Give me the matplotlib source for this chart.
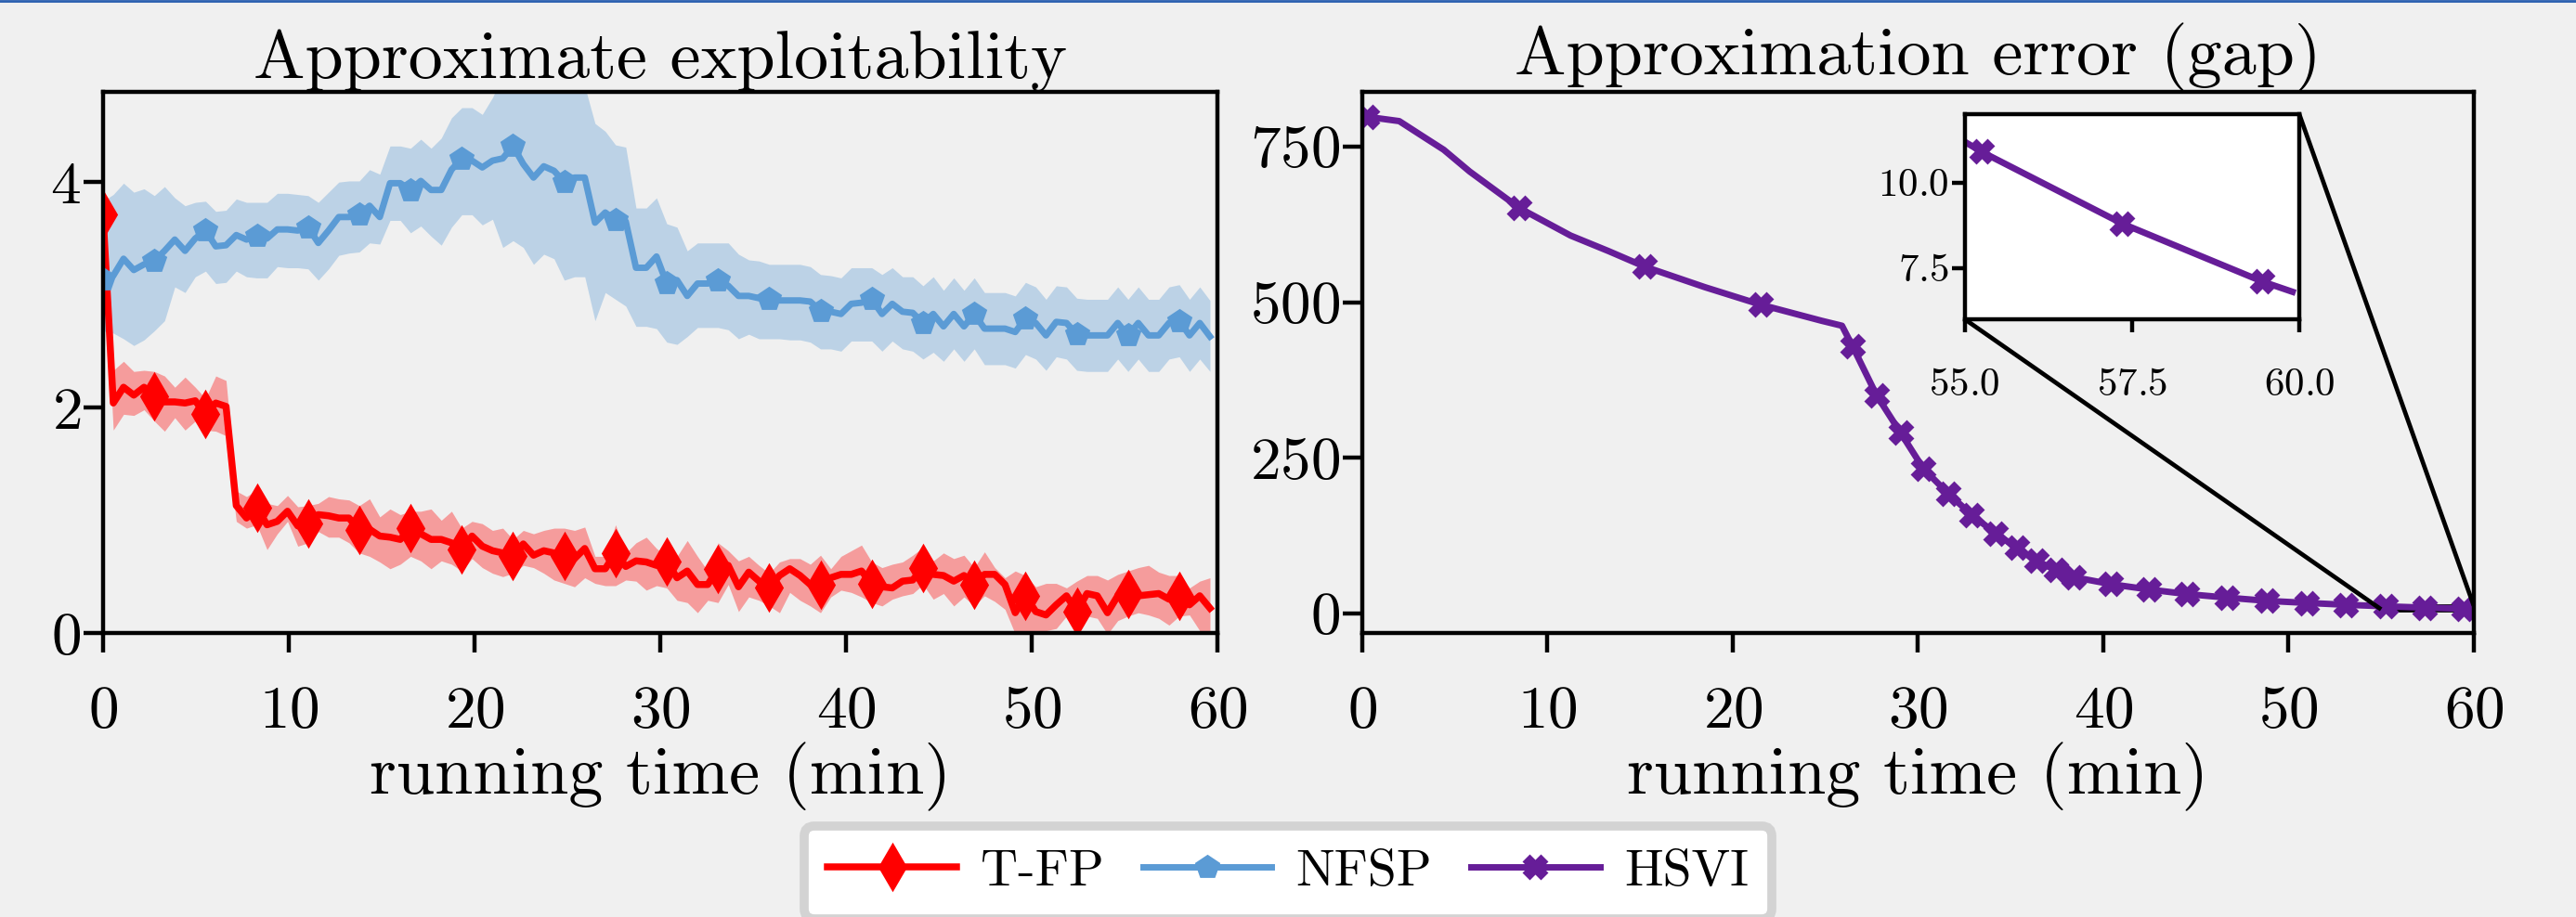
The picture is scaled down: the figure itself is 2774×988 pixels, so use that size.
#!/usr/bin/env python3
"""Exploitability / gap curves: T-FP and NFSP vs HSVI."""

import matplotlib

matplotlib.use("Agg")
import matplotlib.pyplot as plt
import numpy as np
from matplotlib.lines import Line2D
from mpl_toolkits.axes_grid1.inset_locator import mark_inset

plt.rcParams.update({
    "font.family": "cmr10",
    "mathtext.fontset": "cm",
    "axes.formatter.use_mathtext": True,
    "font.size": 23.5,
})

BG = "#f0f0f0"

# running time grid of the sampled runs (min)
TIME = np.linspace(0.0, 59.6, 109)

TFP_MEAN = [
    3.71, 2.04, 2.18, 2.11, 2.18, 2.10, 2.05, 2.05, 2.04, 2.06, 1.94, 2.04, 2.01,
    1.13, 1.02, 1.11, 0.96, 0.99, 1.08, 0.95, 0.97, 1.05, 1.04, 1.02, 1.02, 0.91, 0.92,
    0.86, 0.85, 0.83, 0.93, 0.88, 0.83, 0.83, 0.80, 0.74, 0.86, 0.77, 0.73, 0.71, 0.68,
    0.79, 0.69, 0.73, 0.71, 0.68, 0.66, 0.75, 0.57, 0.57, 0.71, 0.59, 0.64, 0.63, 0.60,
    0.63, 0.49, 0.55, 0.43, 0.43, 0.57, 0.60, 0.41, 0.54, 0.46, 0.40, 0.51, 0.57, 0.51,
    0.43, 0.43, 0.49, 0.52, 0.52, 0.55, 0.44, 0.41, 0.40, 0.46, 0.47, 0.58, 0.52, 0.51,
    0.46, 0.51, 0.43, 0.52, 0.52, 0.43, 0.18, 0.33, 0.19, 0.16, 0.25, 0.33, 0.19, 0.35,
    0.33, 0.18, 0.33, 0.35, 0.33, 0.34, 0.35, 0.30, 0.33, 0.25, 0.33, 0.22,
]
TFP_LO = [
    3.50, 1.80, 1.94, 1.93, 1.98, 1.88, 1.79, 1.91, 1.80, 1.88, 1.80, 1.79, 1.75,
    0.99, 0.93, 0.96, 0.74, 0.88, 0.99, 0.77, 0.80, 0.90, 0.85, 0.85, 0.80, 0.71, 0.68,
    0.63, 0.57, 0.61, 0.68, 0.64, 0.57, 0.64, 0.61, 0.55, 0.66, 0.58, 0.53, 0.50, 0.53,
    0.60, 0.58, 0.53, 0.47, 0.44, 0.41, 0.49, 0.44, 0.42, 0.42, 0.47, 0.46, 0.38, 0.42,
    0.40, 0.29, 0.27, 0.18, 0.29, 0.27, 0.43, 0.19, 0.32, 0.29, 0.24, 0.18, 0.36, 0.29,
    0.24, 0.18, 0.32, 0.38, 0.36, 0.32, 0.27, 0.24, 0.30, 0.33, 0.35, 0.43, 0.30, 0.35,
    0.24, 0.32, 0.24, 0.33, 0.28, 0.21, -0.01, 0.02, 0.02, 0.02, 0.04, 0.15, 0.01, 0.15,
    0.13, -0.01, 0.11, 0.15, 0.18, 0.16, 0.13, 0.07, 0.15, 0.16, 0.02, -0.07,
]
TFP_HI = [
    3.89, 2.33, 2.41, 2.32, 2.33, 2.32, 2.28, 2.18, 2.27, 2.18, 2.08, 2.28, 2.24,
    1.26, 1.21, 1.27, 1.15, 1.13, 1.22, 1.12, 1.13, 1.15, 1.21, 1.19, 1.18, 1.13, 1.19,
    1.03, 1.10, 1.05, 1.08, 1.08, 1.10, 1.00, 1.08, 0.93, 0.99, 0.97, 0.91, 0.93, 0.83,
    0.91, 0.88, 0.91, 0.93, 0.93, 0.91, 0.94, 0.68, 0.68, 0.96, 0.71, 0.80, 0.85, 0.75,
    0.68, 0.68, 0.82, 0.68, 0.55, 0.80, 0.73, 0.64, 0.68, 0.60, 0.53, 0.63, 0.66, 0.66,
    0.61, 0.69, 0.57, 0.68, 0.73, 0.78, 0.63, 0.58, 0.61, 0.63, 0.69, 0.76, 0.64, 0.71,
    0.66, 0.69, 0.58, 0.72, 0.58, 0.49, 0.55, 0.51, 0.41, 0.44, 0.44, 0.40, 0.46, 0.51,
    0.51, 0.47, 0.52, 0.55, 0.58, 0.60, 0.54, 0.51, 0.51, 0.40, 0.46, 0.49,
]

NFSP_MEAN = [
    3.14, 3.17, 3.32, 3.22, 3.27, 3.30, 3.39, 3.49, 3.39, 3.50, 3.57, 3.43, 3.44, 3.53,
    3.49, 3.52, 3.50, 3.58, 3.58, 3.57, 3.60, 3.46, 3.57, 3.69, 3.69, 3.71, 3.79,
    3.69, 3.99, 3.99, 3.93, 4.01, 3.93, 3.93, 4.11, 4.21, 4.19, 4.13, 4.19, 4.21, 4.32,
    4.16, 4.04, 4.14, 4.10, 4.00, 4.04, 4.04, 3.64, 3.73, 3.66, 3.65, 3.24, 3.24, 3.34,
    3.10, 3.13, 2.99, 3.10, 3.10, 3.13, 3.08, 2.99, 2.99, 2.97, 2.96, 2.95, 2.95, 2.95,
    2.94, 2.86, 2.85, 2.83, 2.92, 2.93, 2.96, 2.83, 2.92, 2.85, 2.84, 2.75, 2.83,
    2.72, 2.83, 2.72, 2.83, 2.70, 2.70, 2.70, 2.67, 2.79, 2.75, 2.64, 2.76, 2.75, 2.65,
    2.64, 2.64, 2.64, 2.75, 2.64, 2.75, 2.64, 2.64, 2.75, 2.77, 2.64, 2.75, 2.63,
]
NFSP_LO = [
    2.68, 2.66, 2.61, 2.55, 2.60, 2.68, 2.77, 3.07, 3.02, 3.16, 3.21, 3.10, 3.11, 3.21,
    3.16, 3.15, 3.15, 3.25, 3.24, 3.24, 3.23, 3.13, 3.23, 3.35, 3.37, 3.38, 3.46,
    3.45, 3.66, 3.66, 3.55, 3.61, 3.52, 3.44, 3.60, 3.71, 3.71, 3.62, 3.67, 3.42, 3.48,
    3.42, 3.27, 3.36, 3.32, 3.13, 3.16, 3.16, 2.77, 3.02, 2.96, 2.90, 2.72, 2.72, 2.70,
    2.58, 2.56, 2.63, 2.71, 2.71, 2.71, 2.69, 2.61, 2.65, 2.61, 2.61, 2.61, 2.60, 2.60,
    2.58, 2.52, 2.52, 2.50, 2.59, 2.59, 2.59, 2.50, 2.59, 2.52, 2.50, 2.43, 2.49,
    2.41, 2.52, 2.41, 2.52, 2.38, 2.38, 2.38, 2.35, 2.47, 2.43, 2.33, 2.45, 2.43, 2.33,
    2.32, 2.32, 2.32, 2.43, 2.32, 2.43, 2.32, 2.32, 2.43, 2.45, 2.32, 2.43, 2.32,
]
NFSP_HI = [
    3.83, 3.89, 3.99, 3.91, 3.94, 3.88, 3.96, 3.86, 3.79, 3.82, 3.83, 3.74, 3.75, 3.85,
    3.82, 3.82, 3.82, 3.90, 3.90, 3.89, 3.88, 3.82, 3.91, 4.00, 4.01, 4.01, 4.11,
    4.07, 4.32, 4.32, 4.30, 4.38, 4.30, 4.39, 4.57, 4.66, 4.66, 4.60, 4.75, 4.95, 5.10,
    5.10, 5.00, 5.05, 5.00, 4.95, 4.95, 4.85, 4.52, 4.45, 4.33, 4.31, 3.77, 3.77, 3.86,
    3.63, 3.60, 3.39, 3.46, 3.46, 3.46, 3.46, 3.36, 3.31, 3.30, 3.27, 3.27, 3.27, 3.27,
    3.25, 3.18, 3.17, 3.15, 3.24, 3.24, 3.24, 3.18, 3.24, 3.16, 3.16, 3.08, 3.16,
    3.04, 3.15, 3.04, 3.15, 3.02, 3.02, 3.02, 2.99, 3.11, 3.07, 2.96, 3.08, 3.07, 2.97,
    2.96, 2.96, 2.96, 3.07, 2.96, 3.07, 2.96, 2.96, 3.07, 3.09, 2.96, 3.07, 2.95,
]

HSVI_TIME = [
    0.25, 2.0, 3.3, 4.4, 5.8, 8.5, 11.25, 13.3, 15.25, 18.5, 21.5, 24.8, 25.9,
    26.47, 27.77, 29.06, 30.3, 31.64, 32.9, 34.2, 35.33, 36.4, 37.45, 38.38,
    40.42, 42.46, 44.52, 46.67, 48.85, 50.99, 53.1, 55.25, 57.35, 59.45, 59.9,
]
HSVI_GAP = [
    798, 791, 766, 745, 710, 651, 607, 582, 557, 524, 496, 470, 462,
    429, 350, 290, 232, 192, 158, 128, 105, 84, 69, 58,
    46.5, 38, 30.6, 24.9, 19.7, 16.4, 13.4, 10.9, 8.8, 7.1, 6.8,
]
HSVI_MARKS = [0, 5, 8, 10] + list(range(13, 34))

RED = "#ff0000"
BLUE = "#5b9bd5"
PURPLE = "#661d98"
TITLE_SIZE = 26.7


def style_axes(ax, xpad=13):
    for sp in ax.spines.values():
        sp.set_linewidth(1.6)
    ax.tick_params(axis="x", length=7.5, width=1.6, pad=xpad)
    ax.tick_params(axis="y", length=7.5, width=1.6, pad=1)


def main():
    fig = plt.figure(figsize=(13.87, 4.94), dpi=200, facecolor=BG)
    ax1 = fig.add_axes([0.0400, 0.3097, 0.4326, 0.5901], facecolor=BG)
    ax2 = fig.add_axes([0.5288, 0.3097, 0.4315, 0.5901], facecolor=BG)

    # left: approximate exploitability
    ax1.fill_between(TIME, TFP_LO, TFP_HI, color=RED, alpha=0.35, lw=0)
    ax1.fill_between(TIME, NFSP_LO, NFSP_HI, color=BLUE, alpha=0.35, lw=0)
    h_tfp, = ax1.plot(TIME, TFP_MEAN, color=RED, lw=2.7, marker="d", ms=12,
                      markevery=5, label="T-FP")
    h_nfsp, = ax1.plot(TIME, NFSP_MEAN, color=BLUE, lw=2.5, marker="p", ms=9,
                       markevery=5, label="NFSP")
    ax1.set_xlim(0, 60)
    ax1.set_ylim(0, 4.8)
    ax1.set_xticks([0, 10, 20, 30, 40, 50, 60])
    ax1.set_yticks([0, 2, 4])
    ax1.set_title("Approximate exploitability", fontsize=TITLE_SIZE, pad=5)
    ax1.set_xlabel("running time (min)", fontsize=TITLE_SIZE, labelpad=1)
    style_axes(ax1)

    # right: approximation error with zoom inset
    h_hsvi, = ax2.plot(HSVI_TIME, HSVI_GAP, color=PURPLE, lw=2.5, marker="X",
                       ms=8.5, markevery=HSVI_MARKS, label="HSVI")
    ax2.set_xlim(0, 60)
    ax2.set_ylim(-32, 838)
    ax2.set_xticks([0, 10, 20, 30, 40, 50, 60])
    ax2.set_yticks([0, 250, 500, 750])
    ax2.set_title("Approximation error (gap)", fontsize=TITLE_SIZE, pad=5)
    ax2.set_xlabel("running time (min)", fontsize=TITLE_SIZE, labelpad=1)
    style_axes(ax2)

    axins = ax2.inset_axes([0.542, 0.580, 0.301, 0.379], facecolor="white")
    axins.plot(HSVI_TIME, HSVI_GAP, color=PURPLE, lw=2.5, marker="X", ms=8.5,
               markevery=HSVI_MARKS)
    axins.set_xlim(55, 60)
    axins.set_ylim(6, 12)
    axins.set_xticks([55, 57.5, 60])
    axins.set_yticks([7.5, 10])
    style_axes(axins, xpad=14)
    axins.tick_params(axis="both", length=5, labelsize=15.5)
    mark_inset(ax2, axins, loc1=1, loc2=3, fc="none", ec="black", lw=1.7)

    leg = fig.legend([h_tfp, h_nfsp, h_hsvi], ["T-FP", "NFSP", "HSVI"],
                     loc="upper center", bbox_to_anchor=(0.5, 0.0992), ncol=3,
                     fontsize=20, frameon=True, fancybox=True, framealpha=1,
                     facecolor="white", edgecolor="lightgray", borderaxespad=0,
                     handlelength=2.5, handletextpad=0.47, columnspacing=0.75,
                     borderpad=0.45)
    leg.get_frame().set_linewidth(3.5)

    fig.add_artist(Line2D([0, 1], [0.9985, 0.9985], transform=fig.transFigure,
                          color="#2a5fb0", lw=1.0))

    fig.savefig("out.png", dpi=200, facecolor=fig.get_facecolor())
    plt.close(fig)


if __name__ == "__main__":
    main()
